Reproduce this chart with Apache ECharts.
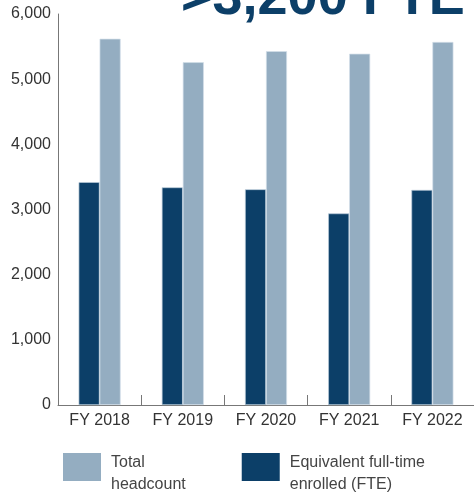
<!DOCTYPE html>
<html>
<head>
<meta charset="utf-8">
<script src="https://cdn.jsdelivr.net/npm/echarts@6/dist/echarts.min.js"></script>
<style>html,body{margin:0;padding:0;background:#fff;}#c{width:474px;height:496px;}</style>
</head>
<body>
<div id="c"></div>
<script>
var categories = ['FY 2018', 'FY 2019', 'FY 2020', 'FY 2021', 'FY 2022'];
var fteValues = [3420, 3340, 3310, 2940, 3300];
var headcountValues = [5620, 5260, 5430, 5390, 5570];
var yTicks = { min: 0, max: 6000, interval: 1000 };
var titleText = '>3,200 FTE';

var FONT = '"Liberation Sans", Arial, sans-serif';
var chart = echarts.init(document.getElementById('c'));
chart.setOption({
  animation: false,
  backgroundColor: '#fff',
  title: {
    text: titleText,
    left: 181,
    top: -28,
    padding: 0,
    textStyle: { fontFamily: FONT, fontSize: 54, fontWeight: 'bold', color: '#0c3f68' }
  },
  grid: { left: 58, right: -1, top: 14, bottom: 91, containLabel: false },
  legend: {
    data: ['Total headcount', 'Equivalent full-time enrolled (FTE)'],
    left: 63,
    top: 438,
    padding: 0,
    itemWidth: 38,
    itemHeight: 28,
    itemGap: 56,
    icon: 'rect',
    itemStyle: { borderWidth: 0 },
    formatter: function (n) {
      var lines = n === 'Total headcount' ? ['Total', 'headcount'] : ['Equivalent full-time', 'enrolled (FTE)'];
      return '{s| }\n{t|' + lines[0] + '}\n{t|' + lines[1] + '}';
    },
    textStyle: {
      fontFamily: FONT, fontSize: 16, color: '#444', padding: [0, 0, 0, 5],
      rich: {
        s: { fontSize: 1, lineHeight: 14, height: 14 },
        t: { fontFamily: FONT, fontSize: 16, color: '#444', lineHeight: 22 }
      }
    }
  },
  xAxis: {
    type: 'category',
    data: categories,
    axisLine: { lineStyle: { color: '#777', width: 1 } },
    axisTick: { show: true, inside: true, length: 10, lineStyle: { color: '#777' } },
    axisLabel: { fontFamily: FONT, fontSize: 16, color: '#333', margin: 8 }
  },
  yAxis: {
    type: 'value',
    min: yTicks.min,
    max: yTicks.max,
    interval: yTicks.interval,
    splitLine: { show: false },
    axisLine: { show: true, lineStyle: { color: '#777', width: 1 } },
    axisTick: { show: false },
    axisLabel: {
      fontFamily: FONT, fontSize: 16, color: '#333', margin: 7,
      formatter: function (v) { return v.toLocaleString('en-US'); }
    }
  },
  series: [
    {
      name: 'Equivalent full-time enrolled (FTE)',
      type: 'bar',
      data: fteValues,
      barWidth: 21,
      barGap: '0%',
      itemStyle: { color: '#0c3f68', borderColor: '#b9cad8', borderWidth: 0.7 }
    },
    {
      name: 'Total headcount',
      type: 'bar',
      data: headcountValues,
      barWidth: 21,
      barGap: '0%',
      itemStyle: { color: '#94adc1', borderColor: '#d3dee8', borderWidth: 0.7 }
    }
  ]
});
</script>
</body>
</html>
